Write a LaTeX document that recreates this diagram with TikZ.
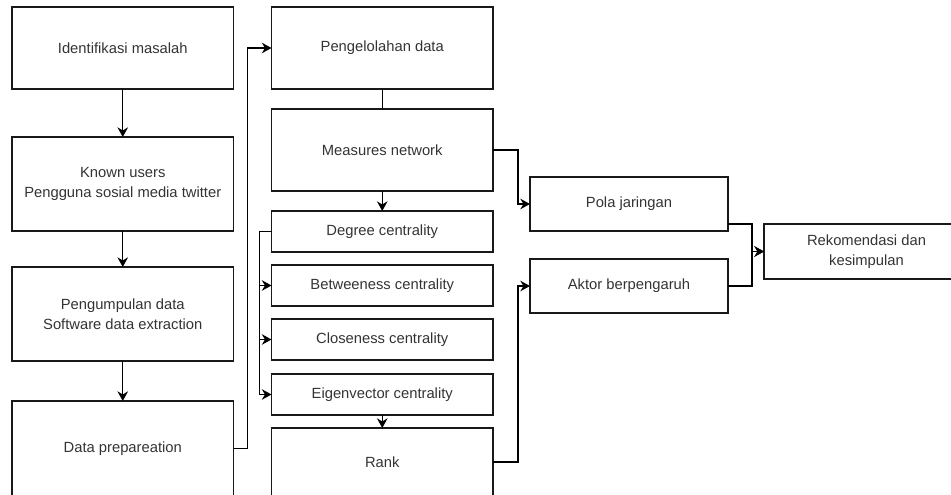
\documentclass[tikz,border=0pt]{standalone}
\usepackage{fontspec}
\setmainfont{Liberation Sans}
\usetikzlibrary{arrows.meta, positioning}

\begin{document}
\begin{tikzpicture}[
						node distance={4mm},
						line width=0.8pt,
						>={Stealth[length=5.5pt, width=6pt]},
						box/.style = {draw=black!90, rectangle, align=center, outer sep=0pt, text=black!80, font=\fontsize{8.4}{11.3}\selectfont, minimum width=4.43cm, minimum height=1.64cm},
						cbox/.style = {box, minimum height=0.82cm},
						rbox/.style = {box, minimum width=3.96cm, minimum height=1.08cm}
					]
\useasboundingbox (0,0) rectangle (19.02,-9.9);
\clip (0,0) rectangle (19.02,-9.9);
\node[box, anchor=north west] (1) at (0.24,-0.14) {Identifikasi masalah};
\node[box, minimum height=1.88cm] (2) [below=0.96cm of 1] {Known users\\Pengguna sosial media twitter};
\node[box, minimum height=1.88cm] (3) [below=0.72cm of 2] {Pengumpulan data\\Software data extraction};
\node[box, minimum height=1.9cm] (4) [below=0.8cm of 3] {Data prepareation};
\node[box] (5) [right=0.76cm of 1] {Pengelolahan data};
\node[box] (6) [below=0.4cm of 5] {Measures network};
\node[cbox] (7) [below=0.4cm of 6] {Degree centrality};
\node[cbox] (8) [below=0.26cm of 7] {Betweeness centrality};
\node[cbox] (9) [below=0.26cm of 8] {Closeness centrality};
\node[cbox] (10) [below=0.28cm of 9] {Eigenvector centrality};
\node[box, minimum height=1.36cm] (11) [below=0.26cm of 10] {Rank};
\node[rbox] (12) [right=0.74cm of 6, yshift=-1.08cm] {Pola jaringan};
\node[rbox] (13) [below=0.56cm of 12] {Aktor berpengaruh};
\node[rbox, minimum width=4.1cm, minimum height=1.1cm] (14) [right=0.72cm of 12, yshift=-0.95cm] {Rekomendasi dan\\kesimpulan};

\draw[->] (1) -- (2);
\draw[->] (2) -- (3);
\draw[->] (3) -- (4);
\draw[->] (4.east) -- ++(0.28,0) |- (5.west);
\draw (5) -- (6);
\draw[->] (6) -- (7);
\draw[->] (7.west) -- ++(-0.24,0) |- (8.west);
\draw[->] (7.west) -- ++(-0.24,0) |- (9.west);
\draw[->] (7.west) -- ++(-0.24,0) |- (10.west);
\draw[->] (10) -- (11);
\draw[->] (6.east) -- ++(0.5,0) |- (12.west);
\draw[->] (11.east) -- ++(0.5,0) |- (13.west);
\draw[->] ([yshift=-0.4cm]12.east) -- ++(0.48,0) |- (14.west);
\draw[->] (13.east) -- ++(0.48,0) |- (14.west);
\end{tikzpicture}
\end{document}
